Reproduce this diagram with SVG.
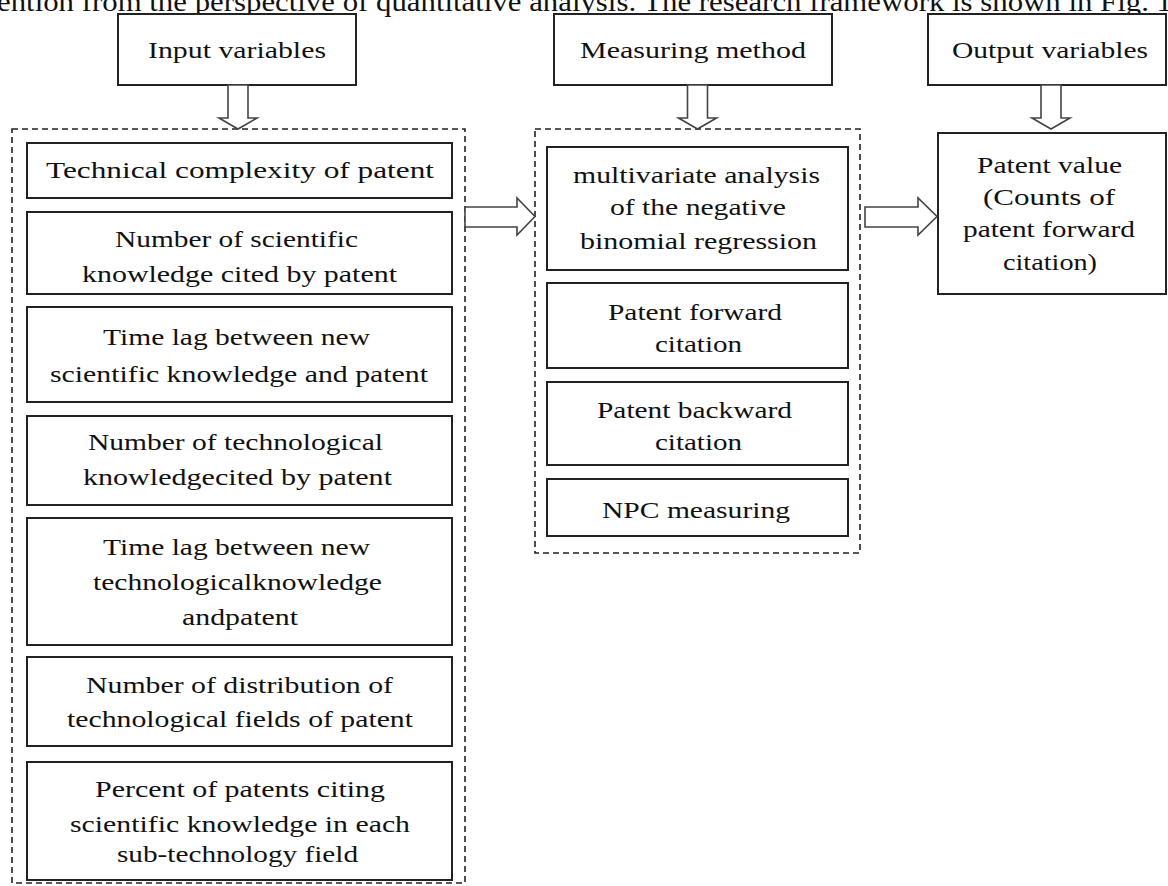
<svg xmlns="http://www.w3.org/2000/svg" width="1168" height="886" viewBox="0 0 1168 886">
<style>
.box{fill:#fff;stroke:#222;stroke-width:2}
.dash{fill:none;stroke:#222;stroke-width:1.6;stroke-dasharray:6 4}
.arr{fill:#fff;stroke:#444;stroke-width:1.6;stroke-linejoin:miter}
text{font-family:"Liberation Serif","Times New Roman",serif;font-size:24px;fill:#111;text-anchor:middle}
.top{text-anchor:start;font-size:27px}
</style>
<rect width="1168" height="886" fill="#fff"/>
<text class="top" x="-3" y="11" textLength="1175" lengthAdjust="spacingAndGlyphs">ention from the perspective of quantitative analysis. The research framework is shown in Fig. 1</text>

<g id="input-variables"><rect class="box" x="118" y="14" width="238" height="71"/><text x="237" y="58" textLength="178" lengthAdjust="spacingAndGlyphs">Input variables</text></g>
<g id="measuring-method"><rect class="box" x="554" y="14" width="278" height="71"/><text x="693" y="58" textLength="226" lengthAdjust="spacingAndGlyphs">Measuring method</text></g>
<g id="output-variables"><rect class="box" x="928" y="14" width="238" height="71"/><text x="1050" y="58" textLength="196" lengthAdjust="spacingAndGlyphs">Output variables</text></g>

<g id="input-group"><rect class="dash" x="12" y="129" width="453" height="754"/></g>
<g id="method-group"><rect class="dash" x="535" y="129" width="325" height="424"/></g>

<g id="in1"><rect class="box" x="27" y="143" width="425" height="55"/><text x="240" y="178" textLength="388" lengthAdjust="spacingAndGlyphs">Technical complexity of patent</text></g>
<g id="in2"><rect class="box" x="27" y="212" width="425" height="82"/><text x="236.5" y="247" textLength="243" lengthAdjust="spacingAndGlyphs">Number of scientific</text><text x="239.5" y="282" textLength="315" lengthAdjust="spacingAndGlyphs">knowledge cited by patent</text></g>
<g id="in3"><rect class="box" x="27" y="307" width="425" height="95"/><text x="236.5" y="345" textLength="267" lengthAdjust="spacingAndGlyphs">Time lag between new</text><text x="239" y="382" textLength="378" lengthAdjust="spacingAndGlyphs">scientific knowledge and patent</text></g>
<g id="in4"><rect class="box" x="27" y="416" width="425" height="89"/><text x="235.5" y="450" textLength="295" lengthAdjust="spacingAndGlyphs">Number of technological</text><text x="237.5" y="485" textLength="309" lengthAdjust="spacingAndGlyphs">knowledgecited by patent</text></g>
<g id="in5"><rect class="box" x="27" y="518" width="425" height="127"/><text x="236.5" y="555" textLength="267" lengthAdjust="spacingAndGlyphs">Time lag between new</text><text x="237.5" y="590" textLength="289" lengthAdjust="spacingAndGlyphs">technologicalknowledge</text><text x="240" y="625" textLength="116" lengthAdjust="spacingAndGlyphs">andpatent</text></g>
<g id="in6"><rect class="box" x="27" y="657" width="425" height="89"/><text x="239.5" y="693" textLength="307" lengthAdjust="spacingAndGlyphs">Number of distribution of</text><text x="240" y="727" textLength="346" lengthAdjust="spacingAndGlyphs">technological fields of patent</text></g>
<g id="in7"><rect class="box" x="27" y="762" width="425" height="118"/><text x="240" y="797" textLength="290" lengthAdjust="spacingAndGlyphs">Percent of patents citing</text><text x="240" y="832" textLength="340" lengthAdjust="spacingAndGlyphs">scientific knowledge in each</text><text x="237.5" y="862" textLength="241" lengthAdjust="spacingAndGlyphs">sub-technology field</text></g>

<g id="m1"><rect class="box" x="547" y="147" width="301" height="123"/><text x="696.5" y="183" textLength="247" lengthAdjust="spacingAndGlyphs">multivariate analysis</text><text x="698" y="215" textLength="176" lengthAdjust="spacingAndGlyphs">of the negative</text><text x="698.5" y="249" textLength="237" lengthAdjust="spacingAndGlyphs">binomial regression</text></g>
<g id="m2"><rect class="box" x="547" y="283" width="301" height="85"/><text x="695" y="320" textLength="174" lengthAdjust="spacingAndGlyphs">Patent forward</text><text x="698.5" y="352" textLength="87" lengthAdjust="spacingAndGlyphs">citation</text></g>
<g id="m3"><rect class="box" x="547" y="382" width="301" height="83"/><text x="694.5" y="418" textLength="195" lengthAdjust="spacingAndGlyphs">Patent backward</text><text x="698.5" y="450" textLength="87" lengthAdjust="spacingAndGlyphs">citation</text></g>
<g id="m4"><rect class="box" x="547" y="479" width="301" height="57"/><text x="696" y="518" textLength="188" lengthAdjust="spacingAndGlyphs">NPC measuring</text></g>

<g id="out1"><rect class="box" x="938" y="133" width="228" height="161"/><text x="1049.5" y="173" textLength="145" lengthAdjust="spacingAndGlyphs">Patent value</text><text x="1049" y="205" textLength="132" lengthAdjust="spacingAndGlyphs">(Counts of</text><text x="1049" y="237" textLength="172" lengthAdjust="spacingAndGlyphs">patent forward</text><text x="1050" y="270" textLength="94" lengthAdjust="spacingAndGlyphs">citation)</text></g>

<g id="connectors">
<polygon class="arr" points="228,85 248,85 248,118 257,118 238,129 219,118 228,118"/>
<polygon class="arr" points="687.5,85 707.5,85 707.5,118 716.5,118 697.5,129 678.5,118 687.5,118"/>
<polygon class="arr" points="1041,85 1061,85 1061,118 1070,118 1051,129 1032,118 1041,118"/>
<polygon class="arr" points="465,207 517,207 517,198 535,216.5 517,235 517,227 465,227"/>
<polygon class="arr" points="865,207 918,207 918,198 937,216.5 918,235 918,227 865,227"/>
</g>
</svg>
